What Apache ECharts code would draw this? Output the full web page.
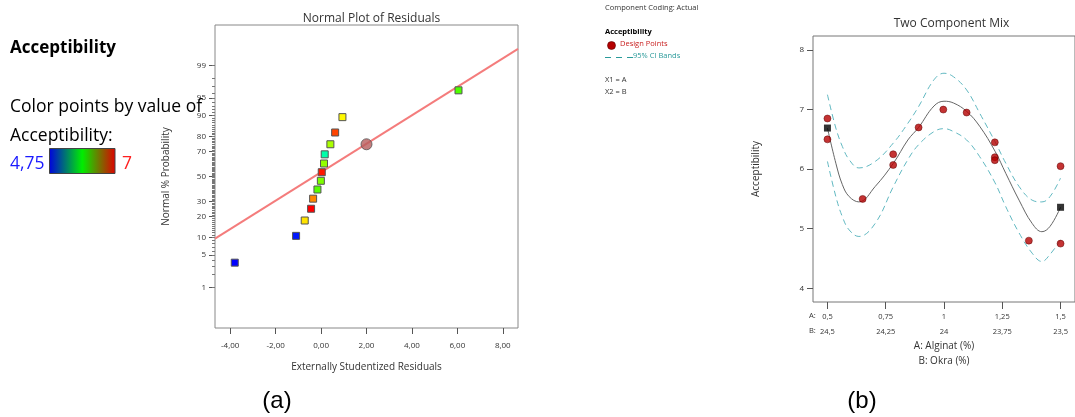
<!DOCTYPE html>
<html><head><meta charset="utf-8">
<script src="https://cdn.jsdelivr.net/npm/echarts@6/dist/echarts.min.js"></script>
<style>html,body{margin:0;padding:0;background:#fff}#c{width:1075px;height:417px}</style>
</head><body><div id="c"></div>
<script>
// ---------- data: (a) normal plot of residuals ----------
const residuals = [-3.80, -1.10, -0.72, -0.44, -0.35, -0.16, -0.01, 0.03, 0.13, 0.16, 0.41, 0.62, 0.94, 6.05];
const normalPct = [3.57, 10.71, 17.86, 25.0, 32.14, 39.29, 46.43, 53.57, 60.71, 67.86, 75.0, 82.14, 89.29, 96.43];
const pointAcc  = [4.75, 4.80, 6.50, 7.00, 6.70, 6.07, 6.15, 6.95, 6.20, 5.50, 6.25, 6.85, 6.45, 6.05];
const refLineX = [-4.67, 8.67];
const refLineP = [9.68, 99.62];
const markX = [2.0];
const markP = [75.0];
const resTickValues = [-4, -2, 0, 2, 4, 6, 8];
const resTickLabels = ['-4,00', '-2,00', '0,00', '2,00', '4,00', '6,00', '8,00'];
const pctTickValues = [1, 5, 10, 20, 30, 50, 70, 80, 90, 95, 99];
const pctTickLabels = ['1', '5', '10', '20', '30', '50', '70', '80', '90', '95', '99'];

// ---------- data: (b) two component mix ----------
const designA = [0.5, 0.5, 0.651, 0.782, 0.782, 0.891, 0.997, 1.097, 1.218, 1.218, 1.218, 1.364, 1.5, 1.5];
const designY = [6.85, 6.50, 5.50, 6.25, 6.07, 6.70, 7.00, 6.95, 6.45, 6.20, 6.15, 4.80, 6.05, 4.75];
const centroidA = [0.5, 1.5];
const centroidY = [6.69, 5.36];
const curveA  = [0.5, 0.536, 0.564, 0.593, 0.635, 0.705, 0.783, 0.845, 0.891, 0.957, 1.0, 1.041, 1.097, 1.153, 1.219, 1.265, 1.322, 1.378, 1.42, 1.455, 1.5];
const fitY    = [6.69, 6.10, 5.74, 5.54, 5.45, 5.71, 6.10, 6.49, 6.70, 7.06, 7.14, 7.11, 6.97, 6.72, 6.30, 5.93, 5.48, 5.09, 4.95, 5.04, 5.36];
const upperY  = [7.25, 6.69, 6.38, 6.16, 6.02, 6.13, 6.44, 6.77, 7.05, 7.50, 7.61, 7.55, 7.33, 6.94, 6.46, 6.10, 5.71, 5.48, 5.45, 5.54, 5.85];
const lowerY  = [6.13, 5.54, 5.20, 4.98, 4.87, 5.09, 5.71, 6.16, 6.41, 6.63, 6.68, 6.63, 6.49, 6.21, 5.77, 5.37, 4.93, 4.59, 4.45, 4.57, 4.81];
const aTickValues = [0.5, 0.75, 1, 1.25, 1.5];
const aTickLabels = ['0,5', '0,75', '1', '1,25', '1,5'];
const bTickLabels = ['24,5', '24,25', '24', '23,75', '23,5'];
const yTickValues = [4, 5, 6, 7, 8];
const accRange = [4.75, 7];

// inverse normal CDF (probability-scale axis)
function probit(p) {
  const a = [-3.969683028665376e+01, 2.209460984245205e+02, -2.759285104469687e+02, 1.383577518672690e+02, -3.066479806614716e+01, 2.506628277459239e+00];
  const b = [-5.447609879822406e+01, 1.615858368580409e+02, -1.556989798598866e+02, 6.680131188771972e+01, -1.328068155288572e+01];
  const c = [-7.784894002430293e-03, -3.223964580411365e-01, -2.400758277161838e+00, -2.549732539343734e+00, 4.374664141464968e+00, 2.938163982698783e+00];
  const d = [7.784695709041462e-03, 3.224671290700398e-01, 2.445134137142996e+00, 3.754408661907416e+00];
  const pl = 0.02425, ph = 1 - pl;
  let q, r;
  if (p < pl) {
    q = Math.sqrt(-2 * Math.log(p));
    return (((((c[0]*q+c[1])*q+c[2])*q+c[3])*q+c[4])*q+c[5]) / ((((d[0]*q+d[1])*q+d[2])*q+d[3])*q+1);
  } else if (p <= ph) {
    q = p - 0.5; r = q*q;
    return (((((a[0]*r+a[1])*r+a[2])*r+a[3])*r+a[4])*r+a[5])*q / (((((b[0]*r+b[1])*r+b[2])*r+b[3])*r+b[4])*r+1);
  } else {
    q = Math.sqrt(-2 * Math.log(1 - p));
    return -(((((c[0]*q+c[1])*q+c[2])*q+c[3])*q+c[4])*q+c[5]) / ((((d[0]*q+d[1])*q+d[2])*q+d[3])*q+1);
  }
}
const z = p => probit(p / 100);
const minorPct = []; for (let i = 1; i <= 99; i++) minorPct.push(i);

function lookup(vals, labels, v) {
  for (let i = 0; i < vals.length; i++) if (Math.abs(vals[i] - v) < 1e-6) return labels[i];
  return '';
}

const FONT = '"Open Sans", "Noto Sans", sans-serif';
const axisTxt = { color: '#333', fontSize: 8, fontFamily: FONT };
const noLine = { show: false, onZero: false };

const chart = echarts.init(document.getElementById('c'), null, { renderer: 'canvas' });

const squares = residuals.map((r, i) => [r, z(normalPct[i]), pointAcc[i]]);
const pctMajorZ = pctTickValues.map(z);
const pctMinorZ = minorPct.map(z);

chart.setOption({
  animation: false,
  backgroundColor: '#fff',
  title: [
    { text: 'Normal Plot of Residuals', left: 366.5, top: 8, textAlign: 'center',
      textStyle: { fontSize: 12, fontWeight: 'normal', color: '#333', fontFamily: FONT } },
    { text: 'Two Component Mix', left: 946.5, top: 13, textAlign: 'center',
      textStyle: { fontSize: 12, fontWeight: 'normal', color: '#333', fontFamily: FONT } }
  ],
  grid: [
    { left: 215, top: 25, width: 303, height: 303, show: true, borderColor: '#888', borderWidth: 1, containLabel: false },
    { left: 813, top: 36, width: 267, height: 266, show: true, borderColor: '#777', borderWidth: 1, containLabel: false }
  ],
  xAxis: [
    { type: 'value', gridIndex: 0, min: -4.67, max: 8.67, position: 'bottom',
      name: 'Externally Studentized Residuals', nameLocation: 'middle', nameGap: 34,
      nameTextStyle: { fontSize: 10, color: '#333', fontFamily: FONT },
      axisLine: noLine, splitLine: { show: false },
      axisTick: { show: true, length: 6, lineStyle: { color: '#555' }, customValues: resTickValues },
      axisLabel: Object.assign({ margin: 14, customValues: resTickValues,
        formatter: v => lookup(resTickValues, resTickLabels, v) }, axisTxt) },
    { type: 'value', gridIndex: 1, min: 0.438, max: 1.562, position: 'bottom',
      name: 'A: Alginat (%)\nB: Okra (%)', nameLocation: 'middle', nameGap: 37, nameMoveOverlap: false,
      nameTextStyle: { fontSize: 10, color: '#333', fontFamily: FONT, lineHeight: 15 },
      axisLine: noLine, splitLine: { show: false },
      axisTick: { show: true, length: 7, lineStyle: { color: '#555' }, customValues: aTickValues },
      axisLabel: Object.assign({ margin: 7, lineHeight: 15, customValues: aTickValues,
        formatter: v => lookup(aTickValues, aTickLabels, v) + '\n' + lookup(aTickValues, bTickLabels, v) }, axisTxt, { fontSize: 7.5 }) }
  ],
  yAxis: [
    { type: 'value', gridIndex: 0, min: -3.17, max: 3.17, position: 'left',
      name: 'Normal % Probability', nameLocation: 'middle', nameGap: 44,
      nameTextStyle: { fontSize: 10, color: '#333', fontFamily: FONT },
      axisLine: noLine, splitLine: { show: false },
      axisTick: { show: true, length: 6, lineStyle: { color: '#555' }, customValues: pctMajorZ },
      axisLabel: Object.assign({ margin: 9, customValues: pctMajorZ,
        formatter: v => { let best = 0; pctMajorZ.forEach((m, i) => { if (Math.abs(m - v) < Math.abs(pctMajorZ[best] - v)) best = i; }); return pctTickLabels[best]; } }, axisTxt) },
    { type: 'value', gridIndex: 0, min: -3.17, max: 3.17, position: 'left',
      axisLine: noLine, splitLine: { show: false }, axisLabel: { show: false },
      axisTick: { show: true, length: 3, lineStyle: { color: '#777' }, customValues: pctMinorZ } },
    { type: 'value', gridIndex: 1, min: 3.77, max: 8.235, position: 'left',
      name: 'Acceptibility', nameLocation: 'middle', nameGap: 52,
      nameTextStyle: { fontSize: 10, color: '#333', fontFamily: FONT },
      axisLine: noLine, splitLine: { show: false },
      axisTick: { show: true, length: 6, lineStyle: { color: '#555' }, customValues: yTickValues },
      axisLabel: Object.assign({ margin: 9, customValues: yTickValues }, axisTxt) }
  ],
  visualMap: [{
    show: false, type: 'continuous', min: accRange[0], max: accRange[1], dimension: 2, seriesIndex: 1,
    inRange: { color: ['#0000ff', '#00ffff', '#00ff00', '#ffff00', '#ff0000'] }
  }],
  series: [
    { type: 'line', xAxisIndex: 0, yAxisIndex: 0, data: refLineX.map((x, i) => [x, z(refLineP[i])]),
      symbol: 'none', lineStyle: { color: '#f47c7c', width: 2 }, z: 2 },
    { type: 'scatter', xAxisIndex: 0, yAxisIndex: 0, data: squares, symbol: 'rect', symbolSize: 7,
      itemStyle: { borderColor: '#555', borderWidth: 1, opacity: 1 }, z: 3 },
    { type: 'scatter', xAxisIndex: 0, yAxisIndex: 0, data: markX.map((x, i) => [x, z(markP[i])]),
      symbol: 'circle', symbolSize: 11, itemStyle: { color: '#b85c5c', borderColor: '#555', borderWidth: 1 }, z: 4 },

    { type: 'line', xAxisIndex: 1, yAxisIndex: 2, data: curveA.map((a, i) => [a, upperY[i]]), smooth: 0.4,
      symbol: 'none', lineStyle: { color: '#62b9c2', width: 1, type: [6, 4] } },
    { type: 'line', xAxisIndex: 1, yAxisIndex: 2, data: curveA.map((a, i) => [a, lowerY[i]]), smooth: 0.4,
      symbol: 'none', lineStyle: { color: '#62b9c2', width: 1, type: [6, 4] } },
    { type: 'line', xAxisIndex: 1, yAxisIndex: 2, data: curveA.map((a, i) => [a, fitY[i]]), smooth: 0.4,
      symbol: 'none', lineStyle: { color: '#666', width: 1 } },
    { type: 'scatter', xAxisIndex: 1, yAxisIndex: 2, data: designA.map((a, i) => [a, designY[i]]),
      symbol: 'circle', symbolSize: 7, itemStyle: { color: '#b50000', borderColor: '#5a0000', borderWidth: 0.6 }, z: 5 },
    { type: 'scatter', xAxisIndex: 1, yAxisIndex: 2, data: centroidA.map((a, i) => [a, centroidY[i]]),
      symbol: 'rect', symbolSize: 7, itemStyle: { color: '#000' }, z: 6 }
  ],
  graphic: [
    { type: 'text', left: 10, top: 40, style: { text: 'Acceptibility', font: 'bold 17px ' + FONT, fill: '#000' } },
    { type: 'text', left: 10, top: 98, style: { text: 'Color points by value of', font: '17.5px ' + FONT, fill: '#000' }, z: 100 },
    { type: 'text', left: 10, top: 127, style: { text: 'Acceptibility:', font: '17.5px ' + FONT, fill: '#000' } },
    { type: 'text', left: 10, top: 155, style: { text: '4,75', font: '17.5px ' + FONT, fill: '#1a1aff' } },
    { type: 'rect', shape: { x: 49.5, y: 148.5, width: 65.5, height: 25 },
      style: { fill: new echarts.graphic.LinearGradient(0, 0, 1, 0, [
        { offset: 0, color: '#0000e0' }, { offset: 0.5, color: '#00ee00' }, { offset: 1, color: '#e00000' }]),
        stroke: '#444', lineWidth: 1 } },
    { type: 'text', left: 122, top: 155, style: { text: '7', font: '17.5px ' + FONT, fill: '#ff2020' } },

    { type: 'text', left: 605, top: 4, style: { text: 'Component Coding: Actual', font: '7.5px ' + FONT, fill: '#333' } },
    { type: 'text', left: 605, top: 28, style: { text: 'Acceptibility', font: 'bold 7.5px ' + FONT, fill: '#000' } },
    { type: 'circle', shape: { cx: 611.5, cy: 45.5, r: 4 }, style: { fill: '#b50000', stroke: '#5a0000', lineWidth: 0.6 } },
    { type: 'text', left: 620, top: 40, style: { text: 'Design Points', font: '7.5px ' + FONT, fill: '#c82020' } },
    { type: 'line', shape: { x1: 605, y1: 57.5, x2: 633, y2: 57.5 }, style: { stroke: '#2a9a9a', lineWidth: 1, lineDash: [6, 5] } },
    { type: 'text', left: 633, top: 52, style: { text: '95% CI Bands', font: '7.5px ' + FONT, fill: '#2a9a9a' } },
    { type: 'text', left: 605, top: 76, style: { text: 'X1 = A', font: '7.5px ' + FONT, fill: '#333' } },
    { type: 'text', left: 605, top: 88, style: { text: 'X2 = B', font: '7.5px ' + FONT, fill: '#333' } },

    { type: 'text', left: 809, top: 312, style: { text: 'A:', font: '7.5px ' + FONT, fill: '#333' } },
    { type: 'text', left: 809, top: 327, style: { text: 'B:', font: '7.5px ' + FONT, fill: '#333' } },

    { type: 'text', x: 277, y: 401, style: { text: '(a)', font: '24px "Liberation Sans", Arial, sans-serif', fill: '#000', align: 'center', verticalAlign: 'middle' } },
    { type: 'text', x: 862, y: 401, style: { text: '(b)', font: '24px "Liberation Sans", Arial, sans-serif', fill: '#000', align: 'center', verticalAlign: 'middle' } }
  ]
});
</script></body></html>
